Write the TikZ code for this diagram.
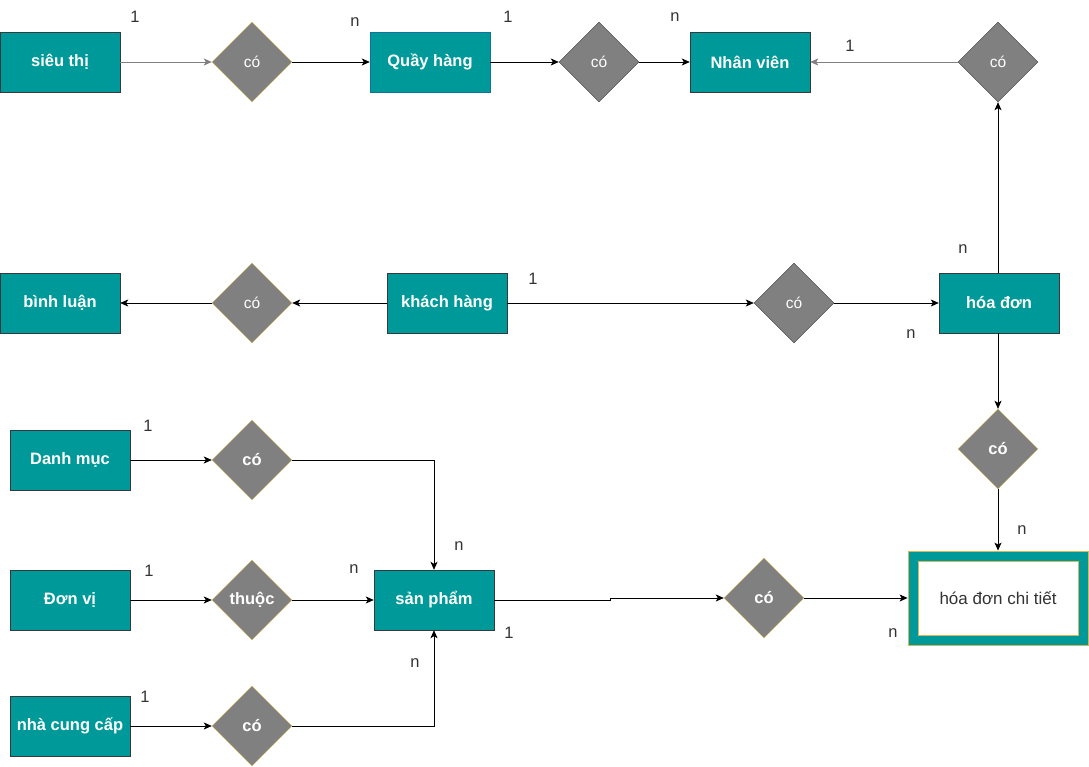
\documentclass[tikz,border=0pt]{standalone}
\usepackage{fontspec}
\setmainfont{Liberation Sans}
\usetikzlibrary{shapes.geometric,arrows.meta}
\definecolor{teal}{HTML}{009999}
\definecolor{edgegray}{HTML}{36393D}
\definecolor{edgeblue}{HTML}{10739E}
\definecolor{gold}{HTML}{D6B656}
\definecolor{diagray}{HTML}{808080}
\definecolor{txtgray}{HTML}{333333}
\begin{document}
\begin{tikzpicture}[x=1pt,y=-1pt,
  entity/.style={draw=edgegray,fill=teal,text=white,minimum width=120pt,minimum height=60pt,
    font=\fontsize{16.5}{20}\selectfont\bfseries,inner sep=0pt},
  rel/.style={diamond,draw=gold,fill=diagray,text=white,minimum width=80pt,minimum height=80pt,
    aspect=1,inner sep=0pt,font=\fontsize{16.5}{20}\selectfont\bfseries},
  relthin/.style={rel,font=\fontsize{15.5}{18}\selectfont},
  card/.style={text=txtgray,font=\fontsize{16.5}{18}\selectfont,inner sep=0pt},
  link/.style={-{Stealth[length=8pt,width=7pt,inset=2pt]},line width=0.8pt}]
\useasboundingbox (0,0) rectangle (1089,767);
% top row
\node[entity] (st) at (60,62) {siêu thị};
\node[relthin] (d1) at (252,62) {có};
\node[entity,draw=edgeblue] (qh) at (430,62) {Quầy hàng};
\node[relthin,draw=edgegray] (d2) at (599,62) {có};
\node[entity] (nv) at (750,62) {Nhân viên};
\node[relthin,draw=edgegray] (d3) at (998,62) {có};
% middle row
\node[entity] (bl) at (60,303) {bình luận};
\node[relthin] (d4) at (252,303) {có};
\node[entity] (kh) at (447,303) {khách hàng};
\node[relthin,draw=edgegray] (d5) at (794,303) {có};
\node[entity] (hd) at (999,303) {hóa đơn};
\node[rel] (d6) at (998,449) {có};
% bottom block
\node[entity] (dm) at (70,460) {Danh mục};
\node[rel] (d7) at (252,460) {có};
\node[entity] (dv) at (70,600) {Đơn vị};
\node[rel] (d8) at (252,600) {thuộc};
\node[entity] (sp) at (434,600) {sản phẩm};
\node[entity] (ncc) at (70,726) {nhà cung cấp};
\node[rel] (d9) at (252,726) {có};
\node[rel] (d10) at (764,598) {có};
\node[draw=gold,fill=teal,minimum width=180pt,minimum height=94pt,line width=0.8pt] (hdct) at (998,598) {};
\node[draw=gold,fill=white,minimum width=160pt,minimum height=74pt,text=txtgray,
  font=\fontsize{17}{20}\selectfont] (hdctin) at (998,598) {hóa đơn chi tiết};
% connectors
\draw[link,diagray] (st) -- (d1);
\draw[link] (d1) -- (qh);
\draw[link] (qh) -- (d2);
\draw[link] (d2) -- (nv);
\draw[link,diagray] (d3) -- (nv);
\draw[link] (hd.north -| d3) -- (d3);
\draw[link] (kh) -- (d4);
\draw[link] (d4) -- (bl);
\draw[link] (kh) -- (d5);
\draw[link] (d5) -- (hd);
\draw[link] (hd.south -| d6) -- (d6);
\draw[link] (d6) -- (hdct);
\draw[link] (dm) -- (d7);
\draw[link] (d7) -| (sp);
\draw[link] (dv) -- (d8);
\draw[link] (d8) -- (sp);
\draw[link] (ncc) -- (d9);
\draw[link] (d9) -| (sp);
\draw[link] (sp.east) -- (610,600) -- (610,598) -- (d10);
\draw[link] (d10) -- (hdct);
% cardinalities
\node[card] (c1) at (135,17) {1};
\node[card] (c2) at (355,22) {n};
\node[card] (c3) at (508,17) {1};
\node[card] (c4) at (675,17) {n};
\node[card] (c5) at (850,46) {1};
\node[card] (c6) at (533,279) {1};
\node[card] (c7) at (963,249) {n};
\node[card] (c8) at (911,334) {n};
\node[card] (c9) at (1022,530) {n};
\node[card] (c10) at (148,426) {1};
\node[card] (c11) at (149,571) {1};
\node[card] (c12) at (145,697) {1};
\node[card] (c13) at (459,546) {n};
\node[card] (c14) at (354,569) {n};
\node[card] (c15) at (415,663) {n};
\node[card] (c16) at (509,633) {1};
\node[card] (c17) at (893,633) {n};
\end{tikzpicture}
\end{document}
